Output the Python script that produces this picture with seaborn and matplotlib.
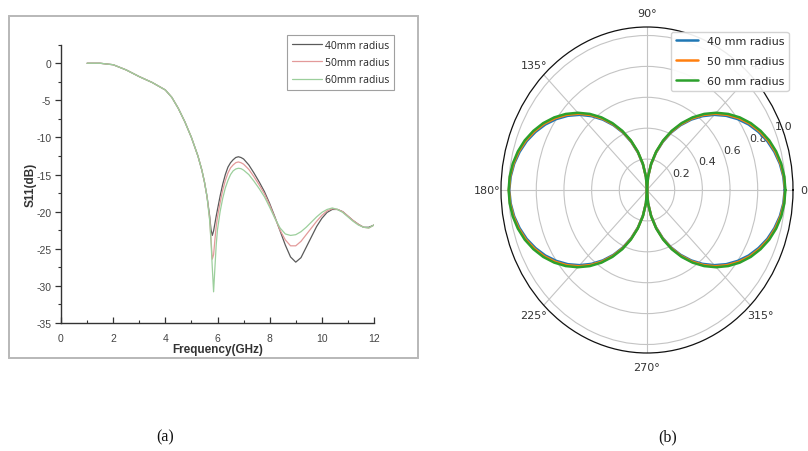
import numpy as np
import pandas as pd
import matplotlib
matplotlib.use("Agg")
import matplotlib.pyplot as plt
from matplotlib.patches import Rectangle
from matplotlib.ticker import MultipleLocator
import seaborn as sns

sns.set_theme(style="ticks")
plt.rcParams["font.family"] = ["DejaVu Sans"]
plt.rcParams["axes.unicode_minus"] = False

# ---- (a) reflection coefficient vs frequency ----
freq_ghz = [1.0, 1.5, 2.0, 2.5, 3.0, 3.5, 4.0, 4.25, 4.5, 4.75, 5.0, 5.25, 5.4, 5.5, 5.6,
            5.7, 5.75, 5.8, 5.85, 5.9, 5.95, 6.0,
            6.1, 6.2, 6.3, 6.4, 6.5, 6.6, 6.7, 6.8, 6.9, 7.0,
            7.2, 7.4, 7.6, 7.8, 8.0, 8.2, 8.4, 8.6, 8.8, 9.0, 9.2, 9.4, 9.6, 9.8, 10.0,
            10.2, 10.4, 10.6, 10.8, 11.0, 11.2, 11.4, 11.6, 11.8, 12.0]
s11_40mm = [0, 0, -0.2, -0.9, -1.8, -2.6, -3.6, -4.6, -6.1, -7.9, -10.0, -12.5, -14.4, -16.0, -18.0,
            -20.6, -22.4, -23.2, -22.6, -21.6, -20.6, -19.7,
            -17.9, -16.3, -15.0, -14.0, -13.4, -13.0, -12.7, -12.6, -12.7, -12.9,
            -13.7, -14.8, -16.0, -17.3, -18.9, -20.7, -22.6, -24.5, -26.1, -26.8,
            -26.2, -24.8, -23.4, -22.0, -20.9, -20.1, -19.7, -19.7, -20.0, -20.6,
            -21.2, -21.7, -22.1, -22.1, -21.8]
s11_50mm = [0, 0, -0.2, -0.9, -1.8, -2.6, -3.6, -4.6, -6.1, -7.9, -10.0, -12.5, -14.4, -16.0, -18.0,
            -21.0, -23.6, -26.4, -25.8, -23.8, -22.0, -20.7,
            -18.8, -17.1, -15.8, -14.8, -14.1, -13.7, -13.4, -13.3, -13.4, -13.6,
            -14.3, -15.3, -16.4, -17.6, -19.1, -20.8, -22.5, -23.8, -24.6, -24.6,
            -24.0, -23.1, -22.2, -21.3, -20.5, -19.9, -19.6, -19.7, -20.0, -20.6,
            -21.2, -21.7, -22.1, -22.2, -21.8]
s11_60mm = [0, 0, -0.2, -0.9, -1.8, -2.6, -3.6, -4.6, -6.1, -7.9, -10.0, -12.5, -14.4, -16.0, -18.0,
            -21.2, -24.0, -27.5, -30.8, -27.6, -24.5, -22.4,
            -20.0, -18.2, -16.8, -15.8, -15.0, -14.5, -14.25, -14.15, -14.2, -14.4,
            -15.0, -15.9, -16.9, -18.0, -19.4, -20.9, -22.2, -23.0, -23.2, -23.1,
            -22.7, -22.1, -21.4, -20.7, -20.1, -19.7, -19.5, -19.7, -20.1, -20.7,
            -21.3, -21.8, -22.1, -22.2, -21.8]
s11_labels = ["40mm radius", "50mm radius", "60mm radius"]
s11_colors = ["#5a5a5a", "#e39a9a", "#9ccf9c"]

# ---- (b) normalised radiation pattern, sampled every 5 degrees ----
angle_deg = list(range(0, 365, 5))
gain_40mm = [0.995, 0.989, 0.975, 0.953, 0.925, 0.889, 0.848, 0.800, 0.747, 0.688,
             0.624, 0.556, 0.484, 0.409, 0.330, 0.249, 0.167, 0.084, 0.0,
             0.084, 0.167, 0.249, 0.330, 0.409, 0.484, 0.556, 0.624, 0.688,
             0.747, 0.800, 0.848, 0.889, 0.925, 0.953, 0.975, 0.989, 0.995,
             0.989, 0.975, 0.953, 0.925, 0.889, 0.848, 0.800, 0.747, 0.688,
             0.624, 0.556, 0.484, 0.409, 0.330, 0.249, 0.167, 0.084, 0.0,
             0.084, 0.167, 0.249, 0.330, 0.409, 0.484, 0.556, 0.624, 0.688,
             0.747, 0.800, 0.848, 0.889, 0.925, 0.953, 0.975, 0.989, 0.995]
gain_50mm = [0.998, 0.993, 0.980, 0.960, 0.933, 0.898, 0.858, 0.810, 0.757, 0.698,
             0.634, 0.565, 0.492, 0.416, 0.336, 0.254, 0.171, 0.085, 0.0,
             0.085, 0.171, 0.254, 0.336, 0.416, 0.492, 0.565, 0.634, 0.698,
             0.757, 0.810, 0.858, 0.898, 0.933, 0.960, 0.980, 0.993, 0.998,
             0.993, 0.980, 0.960, 0.933, 0.898, 0.858, 0.810, 0.757, 0.698,
             0.634, 0.565, 0.492, 0.416, 0.336, 0.254, 0.171, 0.085, 0.0,
             0.085, 0.171, 0.254, 0.336, 0.416, 0.492, 0.565, 0.634, 0.698,
             0.757, 0.810, 0.858, 0.898, 0.933, 0.960, 0.980, 0.993, 0.998]
gain_60mm = [1.0, 0.996, 0.985, 0.966, 0.940, 0.906, 0.866, 0.819, 0.766, 0.707,
             0.643, 0.574, 0.500, 0.423, 0.342, 0.259, 0.174, 0.087, 0.0,
             0.087, 0.174, 0.259, 0.342, 0.423, 0.500, 0.574, 0.643, 0.707,
             0.766, 0.819, 0.866, 0.906, 0.940, 0.966, 0.985, 0.996, 1.0,
             0.996, 0.985, 0.966, 0.940, 0.906, 0.866, 0.819, 0.766, 0.707,
             0.643, 0.574, 0.500, 0.423, 0.342, 0.259, 0.174, 0.087, 0.0,
             0.087, 0.174, 0.259, 0.342, 0.423, 0.500, 0.574, 0.643, 0.707,
             0.766, 0.819, 0.866, 0.906, 0.940, 0.966, 0.985, 0.996, 1.0]
pattern_labels = ["40 mm radius", "50 mm radius", "60 mm radius"]
pattern_colors = ["#1f77b4", "#ff7f0e", "#2ca02c"]

fig = plt.figure(figsize=(8.08, 4.52), dpi=100)
fig.patch.set_facecolor("white")

# light frame around panel (a)
fig.patches.append(Rectangle((9 / 808, 1 - 359 / 452), 409 / 808, 342 / 452,
                             transform=fig.transFigure, fill=False,
                             edgecolor="#b8b8b8", linewidth=1.4))

ax = fig.add_axes([61 / 808, 1 - 324 / 452, 313 / 808, 278.3 / 452])
ax.set_facecolor("white")
s11_df = pd.DataFrame({"f": freq_ghz * 3,
                       "s11": s11_40mm + s11_50mm + s11_60mm,
                       "series": sum([[lab] * len(freq_ghz) for lab in s11_labels], [])})
sns.lineplot(data=s11_df, x="f", y="s11", hue="series", palette=s11_colors,
             hue_order=s11_labels, ax=ax, linewidth=0.9, sort=False, estimator=None)
ax.set_xlim(0, 12)
ax.set_ylim(-35, 2.5)
ax.xaxis.set_major_locator(MultipleLocator(2))
ax.xaxis.set_minor_locator(MultipleLocator(1))
ax.yaxis.set_major_locator(MultipleLocator(5))
ax.yaxis.set_minor_locator(MultipleLocator(2.5))
for side in ("top", "right"):
    ax.spines[side].set_visible(False)
for side in ("left", "bottom"):
    ax.spines[side].set_color("#333333")
    ax.spines[side].set_linewidth(1.0)
ax.tick_params(axis="both", which="major", length=4, width=0.9, color="#333333",
               labelsize=7.5, labelcolor="#444444")
ax.tick_params(axis="both", which="minor", length=2.5, width=0.8, color="#333333")
ax.tick_params(axis="x", which="both", direction="in", pad=7)
ax.tick_params(axis="y", which="both", direction="out", pad=3)
for lab in ax.get_xticklabels() + ax.get_yticklabels():
    lab.set_fontfamily("Liberation Sans")
ax.set_xlabel("Frequency(GHz)", fontsize=8.5, fontweight="bold",
              fontfamily="Liberation Sans", color="#333333", labelpad=0.5)
ax.set_ylabel("S11(dB)", fontsize=8.5, fontweight="bold",
              fontfamily="Liberation Sans", color="#333333", labelpad=0)
leg = ax.legend(loc="upper right", bbox_to_anchor=(1.064, 1.035), borderaxespad=0,
                frameon=True, fancybox=False, handlelength=2.9, handletextpad=0.3,
                borderpad=0.45, labelspacing=0.6, prop={"family": "Open Sans", "size": 7.5})
leg.get_frame().set_edgecolor("#888888")
leg.get_frame().set_linewidth(0.8)
for line in leg.get_lines():
    line.set_linewidth(0.9)

# ---- polar panel ----
pax = fig.add_axes([501 / 808, 1 - 354 / 452, 292 / 808, 326 / 452], projection="polar")
theta = np.deg2rad(angle_deg)
for gains, lab, col in zip([gain_40mm, gain_50mm, gain_60mm], pattern_labels, pattern_colors):
    sns.lineplot(x=theta, y=gains, ax=pax, color=col, label=lab, linewidth=1.8,
                 sort=False, estimator=None)
pax.set_aspect("auto")
pax.set_rmax(1.055)
pax.set_rticks([0.2, 0.4, 0.6, 0.8, 1.0])
pax.set_rlabel_position(22.5)
pax.set_xlabel("")
pax.set_ylabel("")
pax.grid(True, color="#c4c4c4", linewidth=0.8)
pax.spines["polar"].set_color("#111111")
pax.spines["polar"].set_linewidth(0.9)
pax.tick_params(axis="both", labelsize=8, labelcolor="#333333")
pax.tick_params(axis="x", pad=-3)
pl = pax.legend(loc="upper right", bbox_to_anchor=(0.985, 0.985), borderaxespad=0,
                fontsize=8, framealpha=0.92, handlelength=2.0, labelspacing=0.9)
pl.get_frame().set_edgecolor("#d0d0d0")

fig.text(165 / 808, 1 - 437 / 452, "(a)", ha="center", va="center",
         fontsize=11.5, fontfamily="Liberation Serif", color="#111111")
fig.text(668 / 808, 1 - 437 / 452, "(b)", ha="center", va="center",
         fontsize=11.5, fontfamily="Liberation Serif", color="#111111")

fig.savefig("out.png", dpi=100, facecolor="white")
